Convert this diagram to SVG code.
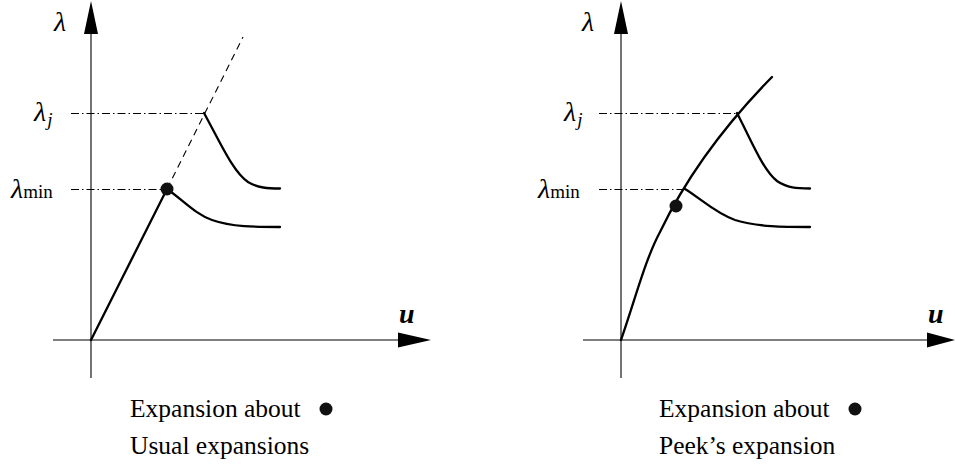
<svg xmlns="http://www.w3.org/2000/svg" width="955" height="470" viewBox="0 0 955 470">
<style>
.axis{stroke:#000;stroke-width:1.1;fill:none}
.head{fill:#000;stroke:none}
.curve{stroke:#000;stroke-width:2.3;fill:none;stroke-linecap:round}
.dashed{stroke:#000;stroke-width:1.1;fill:none;stroke-dasharray:7 5}
.dashdot{stroke:#000;stroke-width:1;fill:none;stroke-dasharray:8 3 1.5 3}
.lbl{font-family:"Liberation Serif","DejaVu Serif",serif;font-style:italic;font-size:28px;fill:#000}
.sub{font-family:"Liberation Serif","DejaVu Serif",serif;font-style:normal;font-size:19px;fill:#000}
.subi{font-family:"Liberation Serif","DejaVu Serif",serif;font-style:italic;font-size:19px;fill:#000}
.u{font-family:"Liberation Serif","DejaVu Serif",serif;font-style:italic;font-weight:bold;font-size:28px;fill:#000}
.cap{font-family:"Liberation Serif","Times New Roman",serif;font-size:25.5px;fill:#000}
.dot{fill:#111}
</style>

<g id="left-axes">
  <line class="axis" x1="91" y1="30" x2="91" y2="378"/>
  <polygon class="head" points="91,1 84,34 98,34"/>
  <line class="axis" x1="53" y1="340" x2="400" y2="340"/>
  <polygon class="head" points="431,340 398,332.5 398,347.5"/>
  <text class="lbl" x="54" y="31">λ</text>
  <text class="u" x="399" y="323">u</text>
</g>

<g id="left-levels">
  <text class="lbl" x="34" y="121">λ<tspan class="subi" dx="1" dy="5">j</tspan></text>
  <text class="lbl" x="11" y="198">λ<tspan class="sub">min</tspan></text>
</g>

<g id="left-connectors">
  <line class="dashdot" x1="71" y1="113.5" x2="204" y2="113.5"/>
  <line class="dashdot" x1="71" y1="189.5" x2="165" y2="189.5"/>
  <line class="dashed" x1="167" y1="189" x2="243" y2="37"/>
  <line class="curve" x1="91" y1="340" x2="167" y2="189"/>
  <path class="curve" d="M204,113 C220,142 233,172 248,182 C258,188 268,188.5 280,188.5"/>
  <path class="curve" d="M167,189 C183,200 195,214 212,220 C232,227 255,227 280,227"/>
  <circle class="dot" cx="167" cy="189" r="6.5"/>
</g>

<g id="right-axes">
  <line class="axis" x1="621" y1="30" x2="621" y2="378"/>
  <polygon class="head" points="621,1 614,34 628,34"/>
  <line class="axis" x1="583" y1="340" x2="930" y2="340"/>
  <polygon class="head" points="955,340 927,332.5 927,347.5"/>
  <text class="lbl" x="582" y="31">λ</text>
  <text class="u" x="928" y="323">u</text>
</g>

<g id="right-levels">
  <text class="lbl" x="564" y="121">λ<tspan class="subi" dx="1" dy="5">j</tspan></text>
  <text class="lbl" x="538" y="198">λ<tspan class="sub">min</tspan></text>
</g>

<g id="right-connectors">
  <line class="dashdot" x1="599" y1="113.5" x2="737" y2="113.5"/>
  <line class="dashdot" x1="599" y1="189.5" x2="685" y2="189.5"/>
  <path class="curve" d="M621,340 C635,300 645,260 660,232 C685,180 720,130 772,77"/>
  <path class="curve" d="M737,113 C752,142 763,170 777,181 C787,188 797,188.5 810,188.5"/>
  <path class="curve" d="M685,189 C700,198 715,213 735,220 C757,227 785,227 810,227"/>
  <circle class="dot" cx="676" cy="206" r="6.5"/>
</g>

<g id="left-caption">
  <text class="cap" x="130" y="417">Expansion about</text>
  <circle class="dot" cx="326" cy="409" r="6.5"/>
  <text class="cap" x="130" y="454">Usual expansions</text>
</g>

<g id="right-caption">
  <text class="cap" x="659" y="417">Expansion about</text>
  <circle class="dot" cx="855" cy="409" r="6.5"/>
  <text class="cap" x="659" y="454">Peek’s expansion</text>
</g>
</svg>
